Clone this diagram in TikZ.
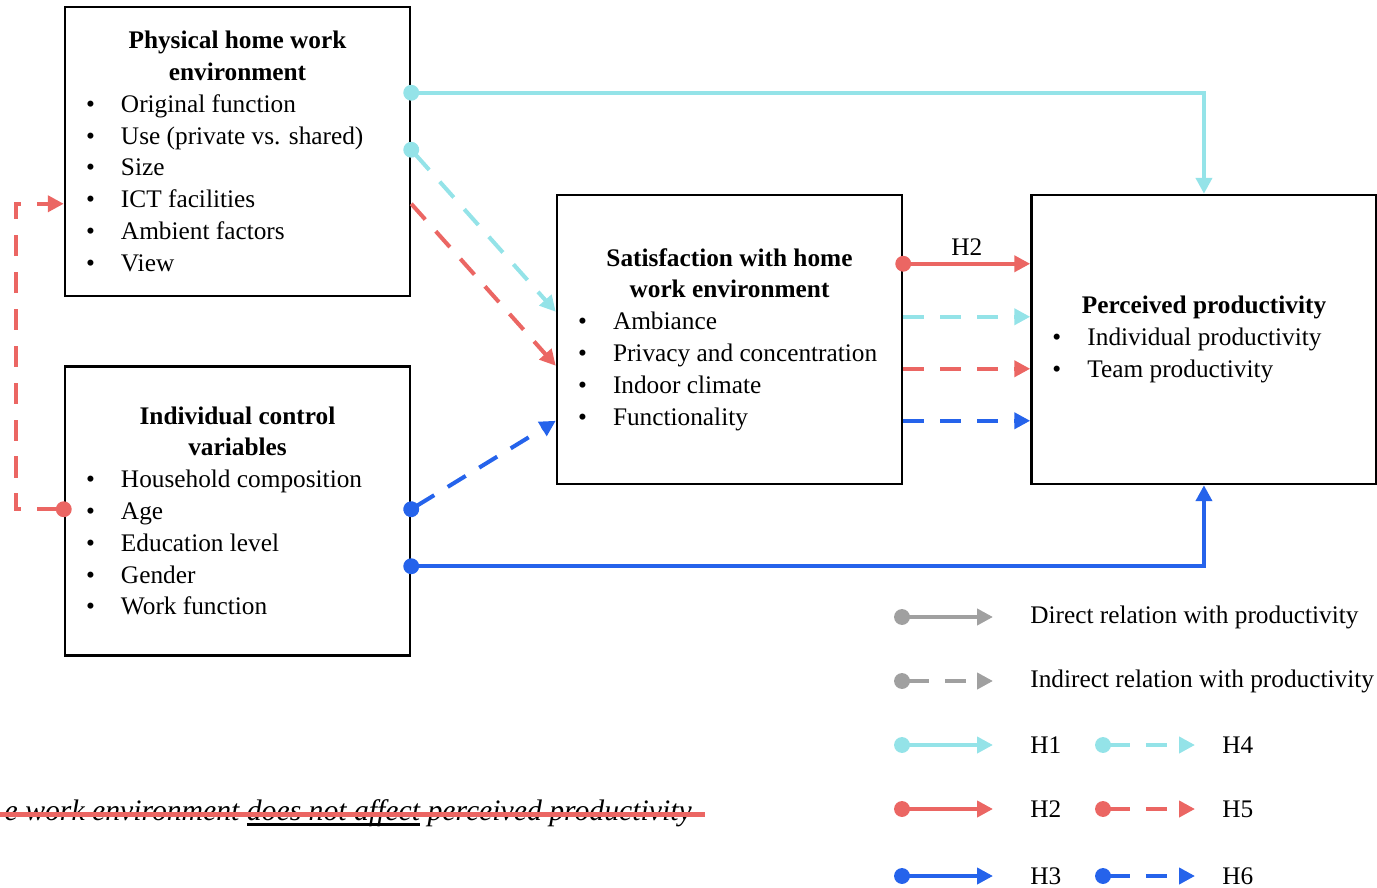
\documentclass[tikz,border=0pt]{standalone}
\usepackage{fontspec}
\setmainfont{Liberation Serif}
\usepackage{tikz}
\usetikzlibrary{arrows.meta,positioning,calc}

\definecolor{hcyan}{RGB}{148,227,232}
\definecolor{hred}{RGB}{235,102,99}
\definecolor{hblue}{RGB}{37,99,235}
\definecolor{hgrey}{RGB}{160,160,160}

\newcommand{\itm}[1]{\hspace*{0.42cm}\makebox[0.7cm][l]{\textbullet}#1\par}
\newcommand{\boxtext}[2]{\begin{minipage}{6.9cm}\centering\textbf{#1}\par\raggedright #2\end{minipage}}
\newcommand{\ulthick}[1]{\setbox0\hbox{#1}\rlap{\rule[-3.5pt]{\wd0}{1.6pt}}\box0\relax}

\begin{document}
\begin{tikzpicture}[
  box/.style={draw, line width=1.4pt, minimum width=6.9cm, minimum height=5.78cm,
              inner sep=0pt, font=\fontsize{14.4}{18.1}\selectfont},
  link/.style={line width=2.3pt, -{Triangle[length=9pt,width=9pt]}},
  dotlink/.style={line width=2.3pt, {Circle[length=9pt]}-{Triangle[length=9pt,width=9pt]},
                  shorten <=-4.5pt},
  broken/.style={dash pattern=on 12pt off 9pt},
  lgtext/.style={anchor=west, inner sep=0pt, font=\fontsize{14.4}{18.1}\selectfont},
]
  \clip (0,0) rectangle (27.54,-17.76);

  \node[box] (phys) at (4.75,-3.03) {\boxtext{Physical home work\\environment}{%
    \itm{Original function}\itm{Use (private vs. shared)}\itm{Size}%
    \itm{ICT facilities}\itm{Ambient factors}\itm{View}}};
  \node[box, below=1.36cm of phys] (indiv) {\boxtext{Individual control\\variables}{%
    \itm{Household composition}\itm{Age}\itm{Education level}%
    \itm{Gender}\itm{Work function}}};
  \node[box] (sat) at (14.59,-6.79) {\boxtext{Satisfaction with home\\work environment}{%
    \itm{Ambiance}\itm{Privacy and concentration}\itm{Indoor climate}%
    \itm{Functionality}}};
  \node[box, right=2.54cm of sat] (perc) {\boxtext{Perceived productivity}{%
    \itm{Individual productivity}\itm{Team productivity}}};

  % direct relations
  \draw[dotlink, hcyan] ($(phys.north east)+(0,-1.74)$) -| (perc.north);
  \draw[dotlink, hblue] ($(indiv.north east)+(0,-4.02)$) -| (perc.south);
  \draw[dotlink, hred] ($(sat.north east)+(0,-1.4)$) --
    node[above, text=black, font=\fontsize{14.4}{18.1}\selectfont] (h2lbl) {H2}
    ($(perc.north west)+(0,-1.4)$);

  % indirect relations
  \draw[dotlink, broken, hcyan] ($(phys.north east)+(0,-2.88)$) -- ($(sat.north west)+(0,-2.36)$);
  \draw[link, broken, hred] ($(phys.north east)+(0,-3.96)$) -- ($(sat.north west)+(0,-3.44)$);
  \draw[dotlink, broken, hblue] ($(indiv.north east)+(0,-2.88)$) -- ($(sat.north west)+(0,-4.54)$);
  \draw[link, broken, hcyan] ($(sat.north east)+(0,-2.46)$) -- ($(perc.north west)+(0,-2.46)$);
  \draw[link, broken, hred] ($(sat.north east)+(0,-3.5)$) -- ($(perc.north west)+(0,-3.5)$);
  \draw[link, broken, hblue] ($(sat.north east)+(0,-4.54)$) -- ($(perc.north west)+(0,-4.54)$);
  \draw[dotlink, broken, hred] ($(indiv.north west)+(0,-2.88)$) -- ++(-0.96,0)
    |- ($(phys.north west)+(0,-3.96)$);

  % legend
  \node[lgtext] (lgdir) at (20.6,-12.34) {Direct relation with productivity};
  \node[lgtext] (lgind) at (20.6,-13.62) {Indirect relation with productivity};
  \node[lgtext] (lgh1) at (20.6,-14.9) {H1};
  \node[lgtext] (lgh2) at (20.6,-16.18) {H2};
  \node[lgtext] (lgh3) at (20.6,-17.52) {H3};
  \node[lgtext] (lgh4) at (24.44,-14.9) {H4};
  \node[lgtext] (lgh5) at (24.44,-16.18) {H5};
  \node[lgtext] (lgh6) at (24.44,-17.52) {H6};

  \draw[dotlink, hgrey] ([xshift=-2.56cm]lgdir.west) -- ([xshift=-0.74cm]lgdir.west);
  \draw[dotlink, broken, hgrey] ([xshift=-2.56cm]lgind.west) -- ([xshift=-0.74cm]lgind.west);
  \draw[dotlink, hcyan] ([xshift=-2.56cm]lgh1.west) -- ([xshift=-0.74cm]lgh1.west);
  \draw[dotlink, hred] ([xshift=-2.56cm]lgh2.west) -- ([xshift=-0.74cm]lgh2.west);
  \draw[dotlink, hblue] ([xshift=-2.56cm]lgh3.west) -- ([xshift=-0.74cm]lgh3.west);
  \draw[dotlink, broken, hcyan] ([xshift=-2.38cm]lgh4.west) -- ([xshift=-0.54cm]lgh4.west);
  \draw[dotlink, broken, hred] ([xshift=-2.38cm]lgh5.west) -- ([xshift=-0.54cm]lgh5.west);
  \draw[dotlink, broken, hblue] ([xshift=-2.38cm]lgh6.west) -- ([xshift=-0.54cm]lgh6.west);

  % struck-out statement
  \node[anchor=base east, inner sep=0pt, font=\fontsize{16.9}{20}\selectfont\itshape] (claim)
    at (13.84,-16.4) {e work environment \ulthick{does not affect} perceived productivity};
  \draw[hred, line width=0.1cm] (0,-16.28) -- (14.1,-16.28);
\end{tikzpicture}
\end{document}
